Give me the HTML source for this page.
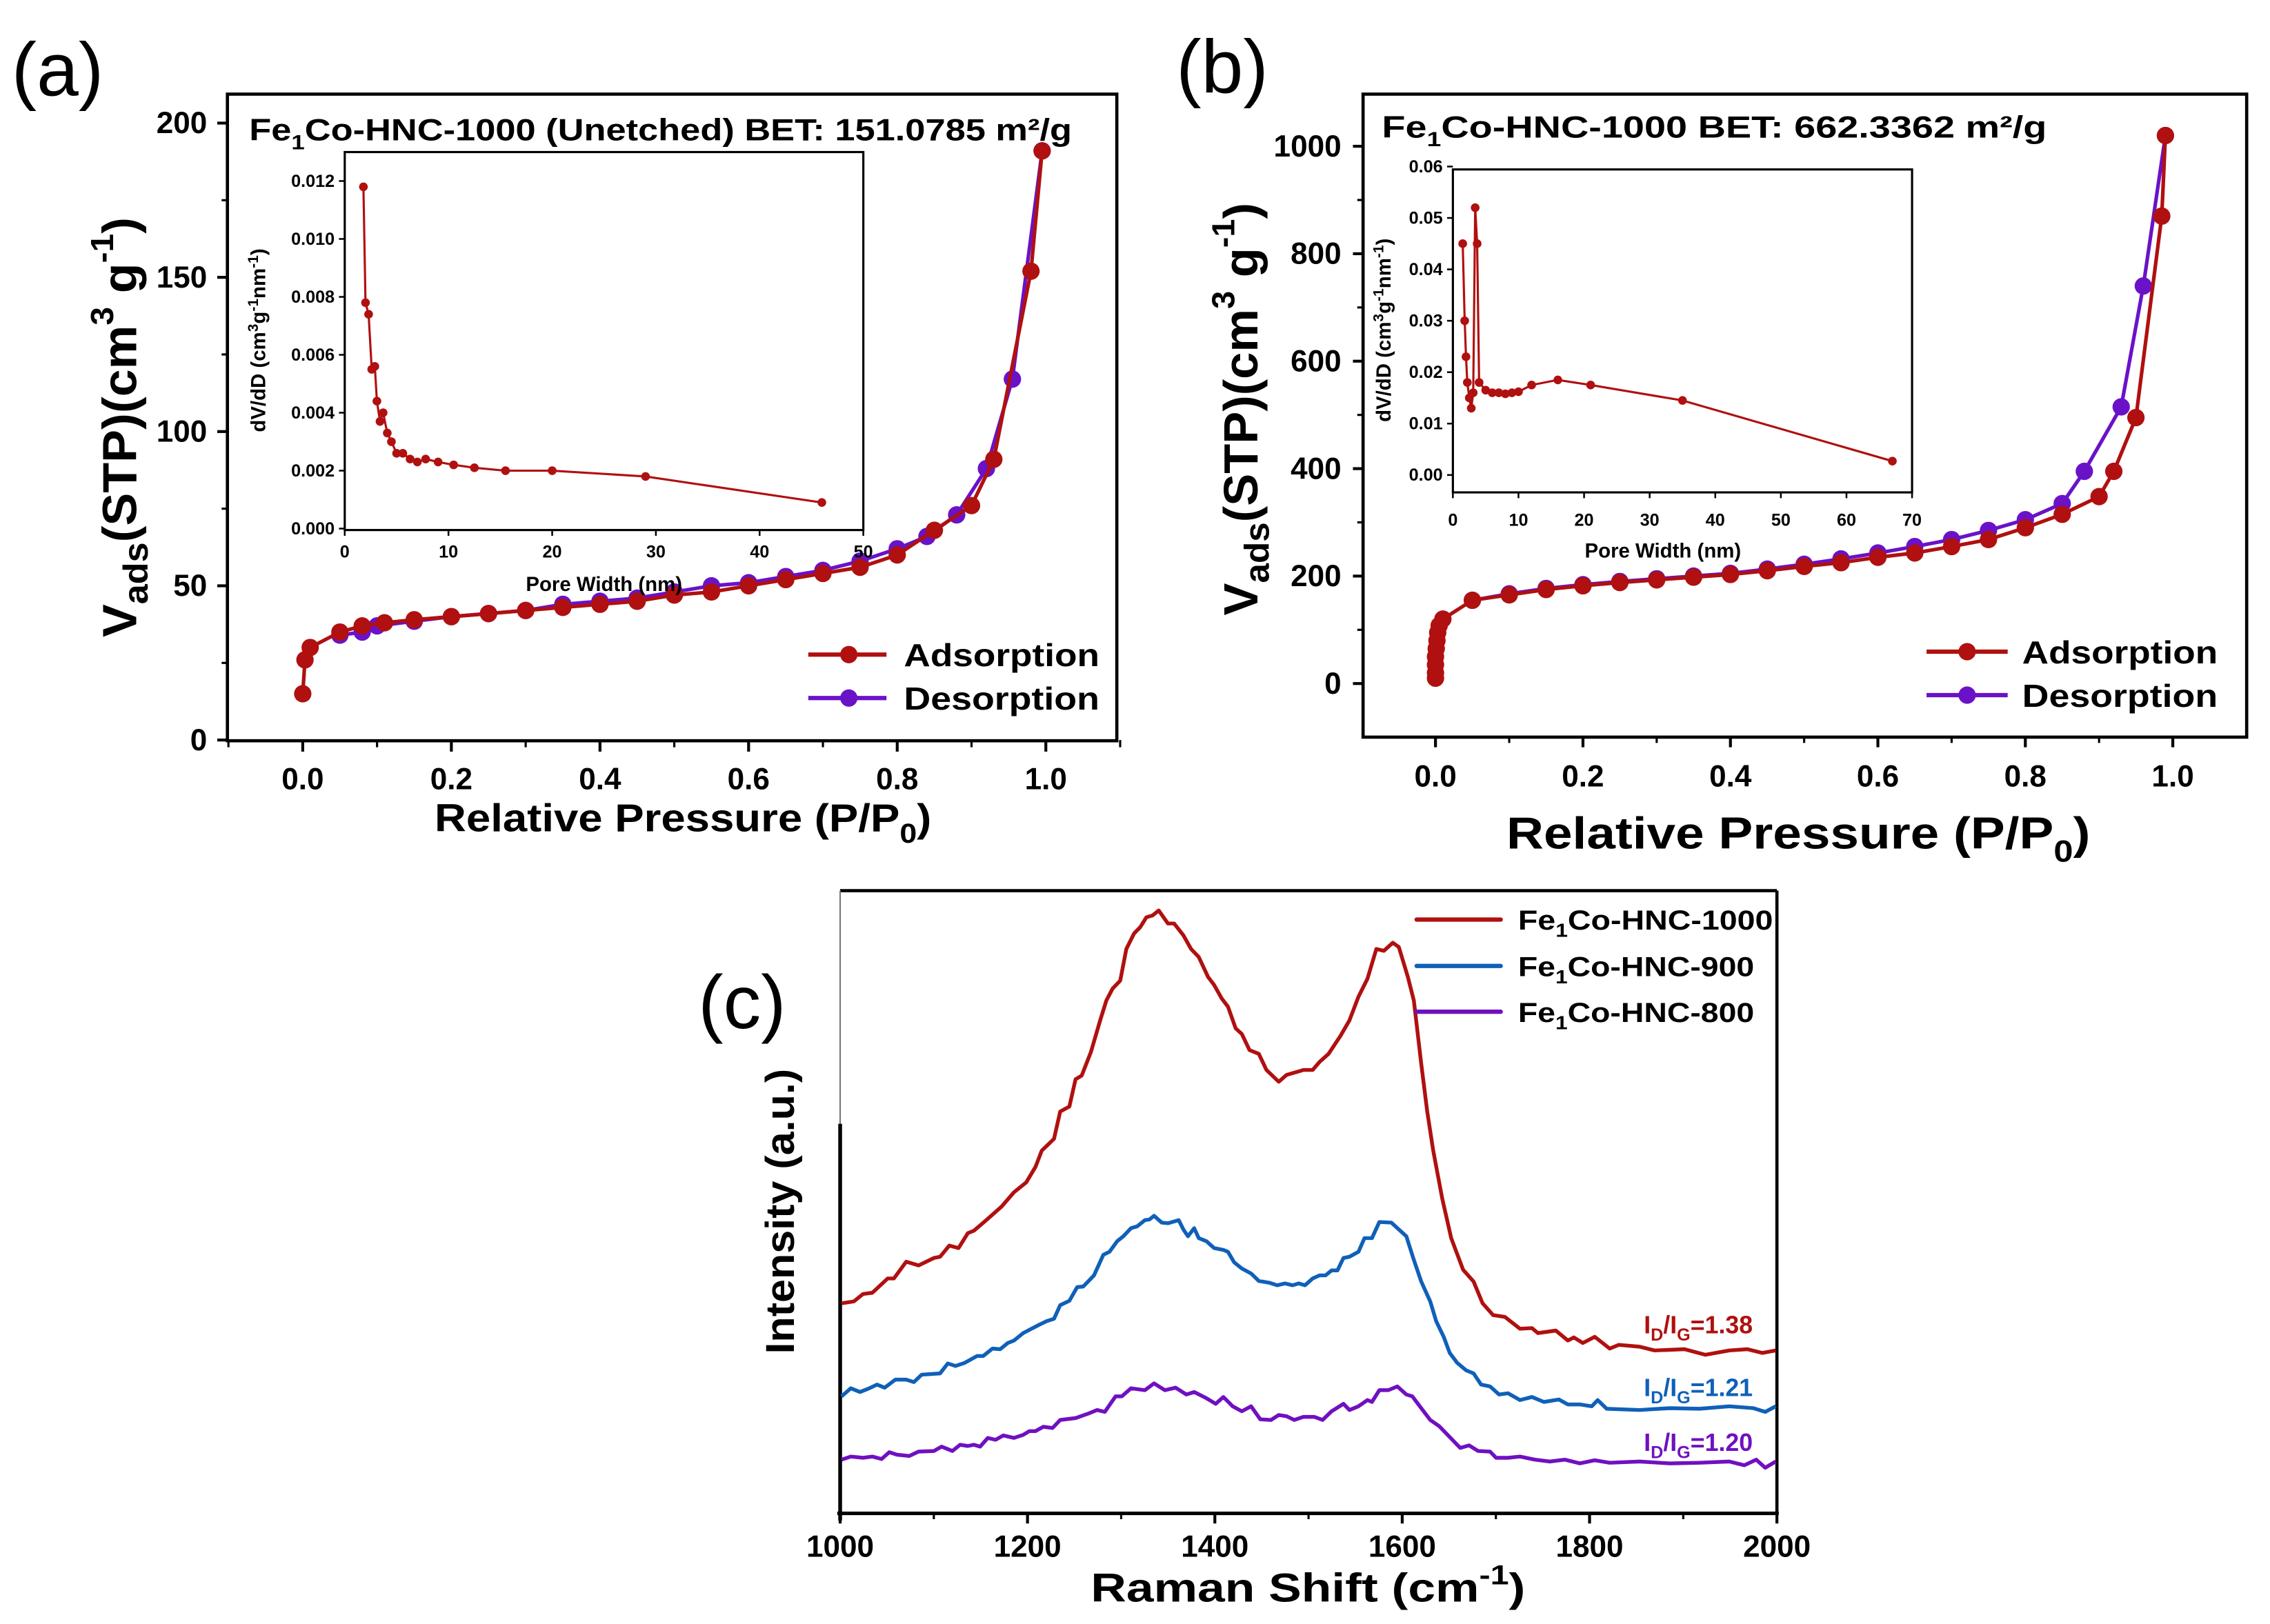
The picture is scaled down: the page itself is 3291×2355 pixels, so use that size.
<!DOCTYPE html>
<html><head><meta charset="utf-8"><style>
html,body{margin:0;padding:0;background:#fff}
svg{display:block;font-family:"Liberation Sans",Arial,sans-serif;font-weight:bold}
</style></head><body>
<svg id="fig" width="3291" height="2355" viewBox="0 0 1567.1 1121.4" preserveAspectRatio="none" xmlns="http://www.w3.org/2000/svg">
<rect width="1567.1" height="1121.4" fill="#fff"/>
<text x="8" y="66" font-size="52" font-weight="normal">(a)</text>
<text x="812" y="64" font-size="52" font-weight="normal">(b)</text>
<text x="482" y="710" font-size="52" font-weight="normal">(c)</text>
<g id="g"></g>
</svg>
<script>
// ---- panel (a) data ----
const aAdsP=[0.0,0.003,0.01,0.05,0.08,0.11,0.15,0.2,0.25,0.3,0.35,0.4,0.45,0.5,0.55,0.6,0.65,0.7,0.75,0.8,0.85,0.9,0.93,0.98,0.995];
const aAdsV=[15,26,30,35,37,38,39,40,41,42,43,44,45,47,48,50,52,54,56,60,68,76,91,152,191];
const aDesP=[0.05,0.08,0.1,0.15,0.2,0.25,0.3,0.35,0.4,0.45,0.5,0.55,0.6,0.65,0.7,0.75,0.8,0.84,0.88,0.92,0.955,0.995];
const aDesV=[34,35,37,38.5,40,41,42,44,45,46,48,50,51,53,55,58,62,66,73,88,117,191];
const aInW=[1.8,2.0,2.3,2.6,2.9,3.1,3.4,3.7,4.1,4.5,5.0,5.6,6.3,7.0,7.8,9.0,10.5,12.5,15.5,20,29,46];
const aInD=[0.0118,0.0078,0.0074,0.0055,0.0056,0.0044,0.0037,0.004,0.0033,0.003,0.0026,0.0026,0.0024,0.0023,0.0024,0.0023,0.0022,0.0021,0.002,0.002,0.0018,0.0009];
const aXTicks=[0,0.2,0.4,0.6,0.8,1.0];
const aYTicks=[0,50,100,150,200];
const aInXTicks=[0,10,20,30,40,50];
const aInYTicks=[0,0.002,0.004,0.006,0.008,0.010,0.012];
// ---- panel (b) data ----
const bAdsP=[0,0,0,0,0.001,0.002,0.003,0.005,0.01,0.05,0.1,0.15,0.2,0.25,0.3,0.35,0.4,0.45,0.5,0.55,0.6,0.65,0.7,0.75,0.8,0.85,0.9,0.92,0.95,0.985,0.99];
const bAdsV=[10,20,35,50,65,80,95,108,120,155,165,175,182,188,193,198,203,210,218,225,235,243,255,268,290,315,348,395,495,870,1020];
const bDesP=[0.05,0.1,0.15,0.2,0.25,0.3,0.35,0.4,0.45,0.5,0.55,0.6,0.65,0.7,0.75,0.8,0.85,0.88,0.93,0.96,0.99];
const bDesV=[155,167,177,184,190,195,200,205,213,222,232,243,255,268,285,305,335,395,515,740,1020];
const bInW=[1.5,1.8,2.0,2.2,2.5,2.8,3.1,3.4,3.7,4.0,5,6,7,8,9,10,12,16,21,35,67];
const bInD=[0.045,0.030,0.023,0.018,0.015,0.013,0.016,0.052,0.045,0.018,0.0165,0.016,0.016,0.0158,0.016,0.0162,0.0175,0.0185,0.0175,0.0145,0.0027];
const bXTicks=[0,0.2,0.4,0.6,0.8,1.0];
const bYTicks=[0,200,400,600,800,1000];
const bInXTicks=[0,10,20,30,40,50,60,70];
const bInYTicks=[0,0.01,0.02,0.03,0.04,0.05,0.06];
// ---- panel (c) data ----
const rShiftR=[1001.5,1014.6,1024.5,1034.4,1050.8,1057.4,1070.5,1083.7,1100.1,1106.7,1116.5,1126.4,1136.3,1142.8,1156.0,1172.4,1185.6,1198.7,1208.6,1215.2,1228.3,1234.9,1244.7,1251.3,1257.9,1267.7,1277.6,1284.2,1290.8,1299.0,1305.5,1313.8,1320.3,1326.9,1333.5,1340.1,1349.9,1356.5,1366.4,1374.6,1382.8,1392.7,1399.2,1407.4,1414.0,1422.2,1428.8,1437.0,1446.9,1455.1,1468.2,1476.5,1488.0,1494.6,1504.4,1511.8,1521.4,1534.1,1543.7,1553.3,1562.9,1572.4,1580.4,1590.0,1596.4,1606.0,1612.4,1620.3,1626.7,1633.1,1642.7,1652.3,1665.0,1676.2,1685.8,1697.0,1709.7,1725.7,1738.5,1744.9,1764.0,1776.8,1783.2,1792.8,1805.5,1821.5,1831.1,1853.4,1869.4,1901.3,1923.7,1949.2,1968.4,1984.3,1998.7];
const rInt1000=[33.9,34.2,35.4,35.6,37.9,37.9,40.6,40.0,41.2,41.4,43.2,42.8,45.2,45.6,47.3,49.5,51.8,53.4,55.9,58.5,60.4,64.8,65.6,70.0,70.6,74.4,79.5,82.7,84.6,85.9,91.0,93.5,94.5,96.1,96.4,97.2,95.1,95.1,93.2,91.0,89.7,86.5,85.2,83.0,81.7,78.2,77.3,74.7,74.1,71.5,69.6,70.7,71.2,71.5,71.5,72.8,74.1,77.0,79.5,83.3,86.2,91.0,90.7,92.0,91.3,86.5,82.7,72.5,64.8,58.5,50.8,44.4,39.3,37.4,33.9,32.0,31.7,29.8,29.9,29.1,29.5,27.9,28.4,27.5,28.5,26.6,27.2,26.9,26.3,26.5,25.6,26.3,26.5,25.9,26.3];
const rShiftB=[1001.5,1011.4,1021.2,1031.1,1039.3,1047.5,1059.0,1070.5,1078.7,1087.0,1106.7,1114.9,1123.1,1133.0,1146.1,1152.7,1162.6,1170.8,1179.0,1185.6,1195.4,1211.9,1220.1,1228.3,1234.9,1244.7,1253.0,1259.5,1271.0,1280.9,1287.5,1295.7,1302.3,1310.5,1317.1,1325.3,1330.2,1335.1,1343.3,1349.9,1361.4,1366.4,1371.3,1377.9,1382.8,1391.0,1399.2,1409.1,1414.0,1420.6,1428.8,1438.7,1446.9,1458.4,1466.6,1474.8,1483.0,1489.6,1496.2,1504.4,1511.8,1518.2,1524.6,1530.9,1537.3,1543.7,1553.3,1559.7,1567.7,1575.6,1588.4,1596.4,1604.4,1612.4,1620.3,1629.9,1636.3,1644.3,1650.7,1658.7,1668.2,1676.2,1684.2,1693.8,1703.4,1712.9,1725.7,1738.5,1751.3,1767.2,1776.8,1789.6,1802.3,1808.7,1818.3,1853.4,1885.4,1917.3,1949.2,1974.8,1987.5,1998.7];
const rInt900=[18.9,20.2,19.6,20.2,20.8,20.3,21.6,21.6,21.2,22.4,22.6,24.2,23.8,24.3,25.4,25.4,26.6,26.5,27.5,27.9,29.1,30.4,31.0,31.4,33.6,34.3,36.5,36.6,38.4,41.7,42.2,43.9,44.7,46.0,46.3,47.3,47.4,48.0,46.9,46.8,47.3,45.8,44.7,46.0,44.4,43.9,42.8,42.5,42.2,40.5,39.5,38.7,37.5,37.2,36.8,37.1,36.8,37.1,36.8,37.9,38.4,38.4,39.2,39.2,41.2,41.4,42.2,44.4,44.4,47.0,46.9,45.8,44.7,40.9,37.4,34.2,31.0,28.5,25.9,24.3,23.1,22.6,20.8,20.5,19.2,19.4,18.3,18.8,18.0,18.4,17.6,17.6,17.3,18.3,16.9,16.7,17.0,16.9,17.3,17.0,16.4,17.3];
const rShiftP=[1001.5,1011.4,1024.5,1034.4,1044.2,1052.4,1060.7,1073.8,1083.7,1100.1,1108.3,1119.8,1128.0,1136.3,1142.8,1149.4,1157.6,1165.9,1174.1,1185.6,1195.4,1202.0,1208.6,1216.8,1226.7,1234.9,1251.3,1264.5,1274.3,1282.5,1294.0,1300.6,1310.5,1325.3,1335.1,1346.6,1358.1,1369.6,1377.9,1391.0,1400.9,1409.1,1419.0,1428.8,1438.7,1448.5,1460.0,1468.2,1476.5,1484.7,1494.6,1506.0,1515.0,1524.6,1537.3,1543.7,1553.3,1562.9,1567.7,1575.6,1585.2,1594.8,1604.4,1610.8,1620.3,1629.9,1639.5,1649.1,1661.9,1671.4,1681.0,1693.8,1700.2,1712.9,1725.7,1741.7,1757.6,1773.6,1789.6,1805.5,1821.5,1853.4,1885.4,1917.3,1949.2,1965.2,1977.9,1987.5,1998.7];
const rInt800=[8.7,9.2,9.0,9.2,8.8,9.9,9.5,9.3,10.0,10.1,10.8,10.1,11.1,10.9,11.1,10.8,12.2,11.9,12.6,12.2,12.7,13.3,13.3,14.0,13.8,15.1,15.4,16.1,16.7,16.4,18.9,18.9,20.2,19.9,21.0,19.9,20.3,19.2,19.6,18.6,17.7,18.8,17.3,16.5,17.3,15.2,15.1,15.9,15.7,15.1,15.6,15.6,15.1,16.5,17.7,16.7,17.3,18.3,18.0,19.9,19.9,20.5,19.2,18.9,17.0,15.1,14.1,12.6,10.6,11.0,10.1,10.0,9.0,9.0,9.2,8.7,8.4,8.7,8.1,8.6,8.2,8.4,8.1,8.2,8.4,7.8,8.7,7.4,8.4];
const cXTicks=[1000,1200,1400,1600,1800,2000];

const NS="http://www.w3.org/2000/svg";
const G=document.getElementById('g');
function el(t,a,p){const e=document.createElementNS(NS,t);for(const k in a)e.setAttribute(k,a[k]);(p||G).appendChild(e);return e;}
function txt(x,y,s,fs,anchor,extra,p){const e=el('text',Object.assign({x:x,y:y,'font-size':fs,'text-anchor':anchor||'middle'},extra||{}),p);e.innerHTML=s;return e;}
function stretch(len){return {textLength:len,lengthAdjust:'spacingAndGlyphs'};}
function lin(d0,d1,p0,p1){return v=>p0+(v-d0)/(d1-d0)*(p1-p0);}
function line(xs,ys,X,Y,col,w,name){const pts=xs.map((v,i)=>X(v).toFixed(2)+','+Y(ys[i]).toFixed(2)).join(' ');
 const e=el('polyline',{points:pts,fill:'none',stroke:col,'stroke-width':w,'stroke-linejoin':'round'});
 
 return e;}
function dots(xs,ys,X,Y,col,r,name){xs.forEach((v,i)=>{const c=el('circle',{cx:X(v),cy:Y(ys[i]),r:r,fill:col});
 
 });}
const RED='#b01010',PUR='#6a12c8',BLU='#1060b8',PUR2='#7010c0';

function frame(x0,y0,x1,y1,w,name){const r=el('rect',{x:x0,y:y0,width:x1-x0,height:y1-y0,fill:'none',stroke:'#000','stroke-width':w});
 
 }

// ===== Panel (a) =====
(function(){
 const X=lin(0,1,209,722),Y=lin(0,200,511,85);
 frame(157,65,771,511.5,2.2,'plot-frame-a');
 aXTicks.forEach(v=>{el('line',{x1:X(v),x2:X(v),y1:511,y2:519,stroke:'#000','stroke-width':2});
   const t=txt(X(v),545,v.toFixed(1),21);});
 [0.1,0.3,0.5,0.7,0.9,-0.1,1.1].forEach(v=>el('line',{x1:X(v),x2:X(v),y1:511,y2:516,stroke:'#000','stroke-width':1.5}));
 aYTicks.forEach(v=>{el('line',{x1:150,x2:157,y1:Y(v),y2:Y(v),stroke:'#000','stroke-width':2});
   const t=txt(143,Y(v)+7,v,21,'end');});
 [25,75,125,175].forEach(v=>el('line',{x1:153,x2:157,y1:Y(v),y2:Y(v),stroke:'#000','stroke-width':1.5}));
 const xt=txt(300,574,'Relative Pressure (P/P<tspan font-size="19" dy="8">0</tspan><tspan dy="-8">)</tspan>',27,'start',stretch(343));
 
 const yt=txt(0,0,'V<tspan font-size="24" dy="8">ads</tspan><tspan dy="-8">(STP)(cm</tspan><tspan font-size="22" dy="-16">3</tspan><tspan dy="16"> g</tspan><tspan font-size="22" dy="-16">-1</tspan><tspan dy="16">)</tspan>',33,'start',Object.assign({transform:'translate(94,440) rotate(-90)'},stretch(290)));
 
 const tt=txt(172,97,'Fe<tspan font-size="14" dy="6">1</tspan><tspan dy="-6">Co-HNC-1000 (Unetched)  BET: 151.0785 m²/g</tspan>',21,'start',stretch(568));
 
 line(aDesP,aDesV,X,Y,PUR,2.5,'desorption-line-a');dots(aDesP,aDesV,X,Y,PUR,6,'desorption-point-a');
 line(aAdsP,aAdsV,X,Y,RED,2.5,'adsorption-line-a');dots(aAdsP,aAdsV,X,Y,RED,6,'adsorption-point-a');
 [[452,RED,'Adsorption'],[482,PUR,'Desorption']].forEach(([y,c,s])=>{
  el('line',{x1:558,x2:612,y1:y,y2:y,stroke:c,'stroke-width':3});el('circle',{cx:586,cy:y,r:6,fill:c});
  const t=txt(624,y+8,s,22,'start',stretch(135));});
 const IX=lin(0,50,238,596),IY=lin(0,0.012,365,125);
 frame(238,105,596,366,1.5,'inset-frame-a');
 aInXTicks.forEach(v=>{el('line',{x1:IX(v),x2:IX(v),y1:366,y2:370,stroke:'#000','stroke-width':1.2});
  const t=txt(IX(v),385,v,12);});
 aInYTicks.forEach(v=>{el('line',{x1:234,x2:238,y1:IY(v),y2:IY(v),stroke:'#000','stroke-width':1.2});
  const t=txt(231,IY(v)+4,v.toFixed(3),12,'end');});
 const ix=txt(417,408,'Pore Width (nm)',14);
 const iy=txt(0,0,'dV/dD (cm<tspan font-size="10" dy="-5">3</tspan><tspan dy="5">g</tspan><tspan font-size="10" dy="-5">-1</tspan><tspan dy="5">nm</tspan><tspan font-size="10" dy="-5">-1</tspan><tspan dy="5">)</tspan>',14,'middle',{transform:'translate(183,235) rotate(-90)'});
 
 line(aInW,aInD,IX,IY,RED,1.5,'inset-line-a');dots(aInW,aInD,IX,IY,RED,3,'inset-point-a');
})();

// ===== Panel (b) =====
(function(){
 const X=lin(0,1,991,1500),Y=lin(0,1000,472,101);
 frame(941,65,1551,509,2.2,'plot-frame-b');
 bXTicks.forEach(v=>{el('line',{x1:X(v),x2:X(v),y1:509,y2:516,stroke:'#000','stroke-width':2});
  const t=txt(X(v),543,v.toFixed(1),21);});
 [0.1,0.3,0.5,0.7,0.9].forEach(v=>el('line',{x1:X(v),x2:X(v),y1:509,y2:513,stroke:'#000','stroke-width':1.5}));
 bYTicks.forEach(v=>{el('line',{x1:934,x2:941,y1:Y(v),y2:Y(v),stroke:'#000','stroke-width':2});
  const t=txt(926,Y(v)+7,v,21,'end');});
 [100,300,500,700,900].forEach(v=>el('line',{x1:937,x2:941,y1:Y(v),y2:Y(v),stroke:'#000','stroke-width':1.5}));
 const xt=txt(1040,586,'Relative Pressure (P/P<tspan font-size="21" dy="9">0</tspan><tspan dy="-9">)</tspan>',31,'start',stretch(403));
 
 const yt=txt(0,0,'V<tspan font-size="24" dy="8">ads</tspan><tspan dy="-8">(STP)(cm</tspan><tspan font-size="22" dy="-16">3</tspan><tspan dy="16"> g</tspan><tspan font-size="22" dy="-16">-1</tspan><tspan dy="16">)</tspan>',33,'start',Object.assign({transform:'translate(868,425) rotate(-90)'},stretch(285)));
 
 const tt=txt(954,95,'Fe<tspan font-size="14" dy="6">1</tspan><tspan dy="-6">Co-HNC-1000    BET: 662.3362 m²/g</tspan>',21,'start',stretch(459));
 
 line(bDesP,bDesV,X,Y,PUR,2.5,'desorption-line-b');dots(bDesP,bDesV,X,Y,PUR,6,'desorption-point-b');
 line(bAdsP,bAdsV,X,Y,RED,2.5,'adsorption-line-b');dots(bAdsP,bAdsV,X,Y,RED,6,'adsorption-point-b');
 [[450,RED,'Adsorption'],[480,PUR,'Desorption']].forEach(([y,c,s])=>{
  el('line',{x1:1330,x2:1386,y1:y,y2:y,stroke:c,'stroke-width':3});el('circle',{cx:1358,cy:y,r:6,fill:c});
  const t=txt(1396,y+8,s,22,'start',stretch(135));});
 const IX=lin(0,70,1003,1320),IY=lin(0,0.06,328,115);
 frame(1003,117,1320,340,1.5,'inset-frame-b');
 bInXTicks.forEach(v=>{el('line',{x1:IX(v),x2:IX(v),y1:340,y2:344,stroke:'#000','stroke-width':1.2});
  const t=txt(IX(v),363,v,12);});
 bInYTicks.forEach(v=>{el('line',{x1:999,x2:1003,y1:IY(v),y2:IY(v),stroke:'#000','stroke-width':1.2});
  const t=txt(996,IY(v)+4,v.toFixed(2),12,'end');});
 const ix=txt(1148,385,'Pore Width (nm)',14);
 const iy=txt(0,0,'dV/dD (cm<tspan font-size="10" dy="-5">3</tspan><tspan dy="5">g</tspan><tspan font-size="10" dy="-5">-1</tspan><tspan dy="5">nm</tspan><tspan font-size="10" dy="-5">-1</tspan><tspan dy="5">)</tspan>',14,'middle',{transform:'translate(960,228) rotate(-90)'});
 
 line(bInW,bInD,IX,IY,RED,1.5,'inset-line-b');dots(bInW,bInD,IX,IY,RED,3,'inset-point-b');
})();

// ===== Panel (c) =====
(function(){
 const X=lin(1000,2000,580,1226.7),Y=lin(0,100,1045.2,616.7);
 el('line',{x1:580,x2:1226.7,y1:615,y2:615,stroke:'#000','stroke-width':2.2});
 el('line',{x1:1226.7,x2:1226.7,y1:615,y2:1045,stroke:'#000','stroke-width':2.2});
 el('line',{x1:578,x2:1228,y1:1045,y2:1045,stroke:'#000','stroke-width':2.4});
 el('line',{x1:580,x2:580,y1:615,y2:776,stroke:'#777','stroke-width':1});
 const ya=el('line',{x1:580,x2:580,y1:776,y2:1050,stroke:'#000','stroke-width':2.6});
 
 
 cXTicks.forEach(v=>{el('line',{x1:X(v),x2:X(v),y1:1045,y2:1052,stroke:'#000','stroke-width':2});
  const t=txt(X(v),1075,v,21);});
 [1100,1300,1500,1700,1900].forEach(v=>el('line',{x1:X(v),x2:X(v),y1:1045,y2:1049,stroke:'#000','stroke-width':1.5}));
 const xt=txt(753,1106,'Raman Shift (cm<tspan font-size="19" dy="-12">-1</tspan><tspan dy="12">)</tspan>',28,'start',stretch(300));
 
 const yt=txt(0,0,'Intensity (a.u.)',28,'start',Object.assign({transform:'translate(548,935) rotate(-90)'},stretch(197)));
 
 line(rShiftR,rInt1000,X,Y,RED,2.6,'raman-line-1000');
 line(rShiftB,rInt900,X,Y,BLU,2.6,'raman-line-900');
 line(rShiftP,rInt800,X,Y,PUR2,2.6,'raman-line-800');
 [[635,RED,'1000',176],[667,BLU,'900',163],[698.6,PUR2,'800',163]].forEach(([y,c,s,L])=>{
  el('line',{x1:978,x2:1036,y1:y,y2:y,stroke:c,'stroke-width':3,'stroke-linecap':'round'});
  const t=txt(1048,y+7,'Fe<tspan font-size="13" dy="5">1</tspan><tspan dy="-5">Co-HNC-'+s+'</tspan>',19,'start',stretch(L));
  });
 [[920.6,RED,'1.38'],[964,BLU,'1.21'],[1002,PUR2,'1.20']].forEach(([y,c,s])=>{
  const t=txt(1210,y,'I<tspan font-size="12" dy="5">D</tspan><tspan dy="-5">/I</tspan><tspan font-size="12" dy="5">G</tspan><tspan dy="-5">='+s+'</tspan>',17,'end',{fill:c});
  });
})();
</script>
</body></html>
